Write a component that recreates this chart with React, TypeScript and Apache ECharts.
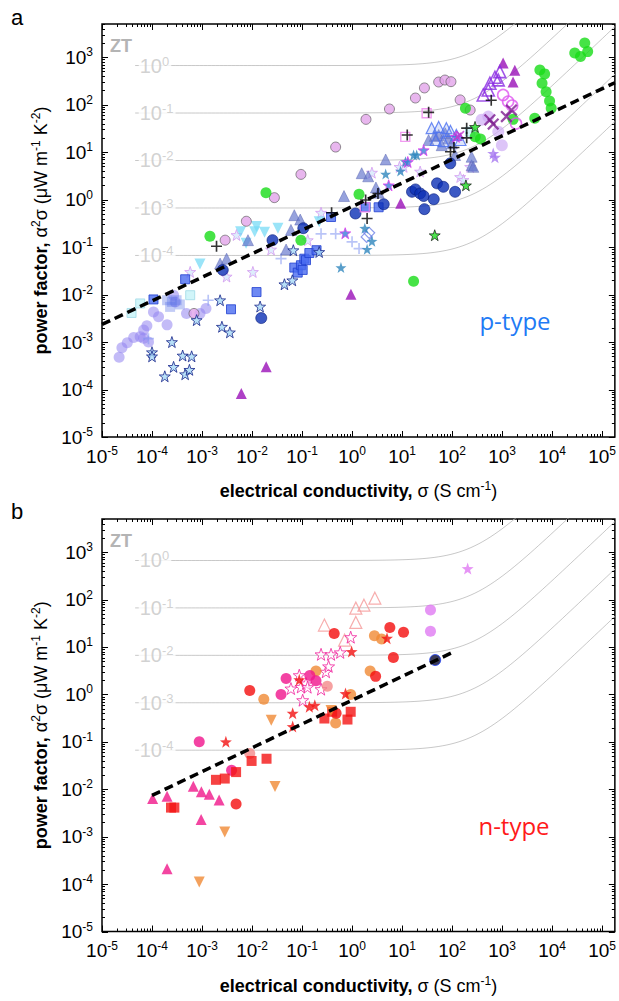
import React, { useEffect, useRef } from "react";
import * as echarts from "echarts";

// ---------- axes ----------
const X_MIN = 1e-5;
const X_MAX = 1.8e5;
const Y_MIN = 1e-5;
const Y_MAX = 5000;
const X_TICK_EXP = [-5, -4, -3, -2, -1, 0, 1, 2, 3, 4, 5];
const Y_TICK_EXP = [-5, -4, -3, -2, -1, 0, 1, 2, 3];

// ---------- ZT model curves ----------
const ZT_LEVELS = [1, 0.1, 0.01, 0.001, 0.0001];
const ZT_LABEL_EXP = ["0", "-1", "-2", "-3", "-4"];
const KAPPA_L = 0.2; // W m-1 K-1
const TEMP = 300; // K
const LORENZ = 2.44e-8; // W Ohm K-2
const CURVE_START = 4.6e-5;
const ZT_LABEL_SIGMA = 5.3e-5;

// ---------- panel a (p-type) ----------
const aLavenderCircles = [[2.2e-5,4.8e-4],[2.5e-5,7.6e-4],[3.2e-5,9.7e-4],[4.3e-5,1.24e-3],[5.8e-5,1.3e-3],[6.8e-5,1.8e-3],[7.9e-5,2.2e-3],[8.5e-5,1.0e-3],[6.8e-5,1.2e-3],[1.07e-4,4.3e-3],[1.35e-4,3.4e-3],[2.0e-4,2.3e-3],[2.7e-4,9.7e-3],[2.9e-4,7.0e-3],[4.9e-4,4.0e-3],[9.1e-4,4.0e-3],[1.2e-3,5.1e-3]];
const aPaleVioletCircles = [[390,48],[530,56],[840,27],[990,14]];
const aPlumCircles = [[6.9e-4,4.0e-3],[2.9e-3,0.14],[7.7e-3,0.35],[0.028,1.1],[0.095,3.4],[0.47,12.8],[1.9,49],[5.6,81],[18.5,138],[28,225],[54,300],[72,330],[95,305],[145,126],[230,77]];
const aGreenCircles = [[1.44e-3,0.17],[0.019,1.4],[0.095,0.14],[1.38,1.3],[17,0.019],[185,84],[290,21],[370,19],[1660,49],[4500,52],[5700,540],[7100,445],[6300,283],[7600,188],[8900,120],[9600,84],[28400,1230],[37000,1030],[45000,2000],[51500,1310]];
const aNavyCircles = [[2.6e-3,0.033],[0.0153,3.2e-3],[0.0257,0.14],[0.106,0.25],[1.17,0.51],[4.3,0.8],[15.8,1.46],[18.5,1.64],[23,1.35],[27,1.19],[28,0.63],[43,1.02],[50,2.2],[67,1.86],[92,5.8],[115,1.46]];
const aBlueSquares = [[1.07e-4,7.9e-3],[4.6e-4,0.021],[3.8e-3,4.9e-3],[0.0123,0.0113],[0.07,0.037],[0.082,0.029],[0.095,0.0415],[0.103,0.033],[0.111,0.057],[0.12,0.053],[0.14,0.075],[0.195,0.086],[0.38,0.43],[1.87,0.7],[3.4,0.69]];
const aFadedBlueSquares = [[2.0e-4,7.6e-3],[2.5e-4,7.0e-3],[3.1e-4,7.6e-3],[3.6e-4,6.2e-3],[2.3e-4,5.5e-3]];
const aCyanSquares = [[3.9e-5,4.1e-3],[5.8e-5,6.5e-3],[5.8e-4,9.7e-3],[230,27]];
const aCyanDownTriangles = [[9.1e-4,0.044],[7.6e-3,0.12],[5.9e-3,0.21],[0.0113,0.21],[0.0123,0.27],[0.0178,0.206],[0.033,0.25],[0.22,0.34]];
const aSlateTriangles = [[0.07,0.47],[0.092,0.38],[8.3e-3,0.14],[0.06,0.23],[0.69,1.19],[3.0,1.8],[1.56,3.6],[4.7,7.0],[2.1,3.1],[3.4,1.4],[45,22],[246,5.3],[246,8.0],[115,8.7],[3.1e-3,0.057],[2.3e-3,0.045],[0.048,0.089],[73,25],[85,19.5],[62,14],[99,15.3],[266,4.9],[54,23],[34,18]];
const aBlueOpenTriangles = [[39,32],[54,34],[77,32],[47,18],[67,17],[93,28],[122,23],[147,18]];
const aPaleStars = [[4.9e-3,0.18],[0.0104,0.03],[3.1e-3,0.024],[5.8e-4,0.03],[0.24,0.53],[0.13,0.14],[0.024,0.089],[10.8,4.9],[23,3.9],[145,3.0],[169,2.6],[230,4.9],[2.5,3.7],[8.9,4.9]];
const aNavyEdgeStars = [[1.0e-4,6.1e-4],[1.0e-4,5.0e-4],[1.8e-4,1.9e-4],[2.5e-4,1.0e-3],[2.7e-4,3.0e-4],[4.1e-4,5.2e-4],[4.6e-4,2.1e-4],[5.6e-4,2.6e-4],[6.2e-4,5.0e-4],[7.8e-4,2.9e-3],[2.3e-3,7.6e-3],[2.5e-3,2.1e-3],[3.6e-3,1.6e-3],[0.0145,5.6e-3],[0.0445,0.0165],[0.064,0.02],[0.067,0.086],[0.22,0.079]];
const aTealStars = [[0.6,0.037],[1.8,0.25],[2.0,0.09],[2.5,0.133],[4.7,3.45],[9.3,4.0],[11.7,6.3],[17,8.7],[19.6,8.7]];
const aPurpleTriangles = [[6.1e-3,8.2e-5],[0.0192,3.0e-4],[0.95,0.0101],[9.4,0.84],[1050,750],[1800,530],[1660,300]];
const aVioletOpenTriangles = [[530,204],[570,283],[720,378],[836,332],[900,497],[420,160]];
const aPlumCrosses = [[570,48],[665,39],[1220,56],[1540,77]];
const aMagentaCrosses = [[145,23],[128,21]];
const aMagentaOpenCircles = [[1050,160],[1320,116],[1590,96],[1900,40]];
const aBlackPluses = [[1.95e-3,0.104],[0.39,0.53],[1.87,0.98],[2.0,0.4],[3.3,1.34],[12.7,23],[34,69],[93,10.2],[109,12.5],[196,32],[196,20],[607,124]];
const aPinkOpenSquares = [[11.6,21],[31,66],[1.8,0.69]];
const aBlueOpenDiamonds = [[1.96,0.164],[2.2,0.2]];
const aLightBluePluses = [[0.24,0.19],[0.47,0.19],[0.038,0.057],[1.0,0.129],[1.38,0.093],[1.33e-3,7.6e-3],[8.5e-5,1.18e-3]];
const aLilacStars = [[665,9.4],[720,7.8]];
const aGreenStars = [[45,0.178],[189,2.0],[288,34]];
const aMagentaEdgeStars = [[0.73,0.196],[5.4,2.0],[13,6.2],[27,11],[120,21]];
const aTrend = [[1e-5,2.35e-3],[1.8e5,290]];

// ---------- panel b (n-type) ----------
const bPinkTriangles = [[1.03e-4,6.4e-3],[2.0e-4,7.1e-3],[6.7e-4,0.0116],[9.7e-4,8.8e-3],[1.4e-3,7.8e-3],[2.2e-3,5.9e-3],[9.6e-4,2.3e-3],[2.0e-4,2.1e-4]];
const bRedSquares = [[2.4e-4,4.1e-3],[2.8e-4,4.1e-3],[1.9e-3,0.0158],[2.85e-3,0.0168],[4.8e-3,0.023],[9.8e-3,0.0395],[0.0195,0.044],[0.28,0.31],[0.4,0.43],[0.81,0.295],[0.94,0.43]];
const bRedCircles = [[4.8e-3,4.9e-3],[9.0e-3,1.21],[0.44,19.3],[0.48,0.4],[2.96,2.4],[5.7,25.8],[6.7,6.0],[10.7,20.5]];
const bRedStars = [[3.0e-3,0.1],[0.065,0.4],[0.065,0.21],[0.088,2.04],[0.14,0.55],[0.18,0.59],[0.74,1.04],[0.98,8.0],[5.0,15.3]];
const bOrangeCircles = [[0.0172,0.79],[0.19,3.1],[0.47,0.25],[0.94,1.0],[2.3,3.1],[2.8,17.3],[3.9,14.8]];
const bSalmonCircles = [[0.32,1.49],[9.0e-3,0.057]];
const bPinkCircles = [[8.8e-4,0.1],[3.9e-3,0.025],[0.038,1.0],[0.048,2.16],[0.143,2.5],[0.19,1.95]];
const bPinkOpenStars = [[0.06,1.33],[0.088,2.54],[0.095,1.44],[0.103,0.755],[0.12,1.7],[0.129,1.42],[0.24,7.0],[0.24,1.29],[0.3,3.0],[0.34,3.9],[0.38,7.0],[0.58,7.7],[0.94,16.1]];
const bSalmonOpenTriangles = [[0.28,29],[0.71,13.9],[1.19,66],[1.19,33],[1.73,76],[2.86,107]];
const bOrangeDownTriangles = [[8.8e-4,1.1e-4],[2.85e-3,1.26e-3],[0.0242,0.286],[0.0288,0.0114],[0.38,0.46]];
const bVioletCircles = [[37,60],[37,21.5]];
const bNavyCircles = [[46,5.3]];
const bVioletStars = [[205,450]];
const bTrend = [[1e-4,7.4e-3],[100,7.6]];

// ---------- helpers ----------
const FONT = "'Liberation Sans', Arial, sans-serif";
const STAR = "path://M0,-10L2.35,-3.24L9.51,-3.09L3.8,1.24L5.88,8.09L0,4L-5.88,8.09L-3.8,1.24L-9.51,-3.09L-2.35,-3.24Z";
const PLUS = "path://M-0.75,-5L0.75,-5L0.75,-0.75L5,-0.75L5,0.75L0.75,0.75L0.75,5L-0.75,5L-0.75,0.75L-5,0.75L-5,-0.75L-0.75,-0.75Z";

function sc(data: number[][], g: number, symbol: string, size: number, itemStyle: any, extra: any = {}) {
  return {
    type: "scatter",
    data,
    xAxisIndex: g,
    yAxisIndex: g,
    symbol,
    symbolSize: size,
    itemStyle,
    silent: true,
    z: 3,
    ...extra,
  };
}

function ztCurves(g: number) {
  const out: any[] = [];
  const steps = 120;
  const l0 = Math.log10(CURVE_START);
  const l1 = Math.log10(X_MAX);
  ZT_LEVELS.forEach((zt) => {
    const pts: number[][] = [];
    for (let i = 0; i <= steps; i++) {
      const s = Math.pow(10, l0 + ((l1 - l0) * i) / steps);
      const pf = (zt * (KAPPA_L + LORENZ * s * 100 * TEMP)) / TEMP * 1e6;
      pts.push([s, pf]);
    }
    out.push({
      type: "line",
      data: pts,
      xAxisIndex: g,
      yAxisIndex: g,
      showSymbol: false,
      symbol: "none",
      silent: true,
      lineStyle: { color: "#c8c8c8", width: 1 },
      z: 1,
    });
  });
  const labelPts = ZT_LEVELS.map((zt, i) => [
    ZT_LABEL_SIGMA,
    (zt * (KAPPA_L + LORENZ * ZT_LABEL_SIGMA * 100 * TEMP)) / TEMP * 1e6,
    ZT_LABEL_EXP[i],
  ]);
  out.push({
    type: "scatter",
    data: labelPts,
    xAxisIndex: g,
    yAxisIndex: g,
    symbolSize: 1,
    itemStyle: { color: "rgba(0,0,0,0)" },
    silent: true,
    z: 2,
    label: {
      show: true,
      position: "right",
      distance: 0,
      formatter: (p: any) => `{b|10}{s|${p.data[2]}}`,
      backgroundColor: "#fff",
      padding: [0, 2, 0, 1],
      rich: {
        b: { fontSize: 20, color: "#c6c6c6", fontFamily: FONT, lineHeight: 22 },
        s: { fontSize: 13, color: "#c6c6c6", fontFamily: FONT, verticalAlign: "top", lineHeight: 17 },
      },
    },
  });
  return out;
}

function tickSeries(g: number) {
  const data: number[][] = [];
  X_TICK_EXP.forEach((e) => {
    const d = Math.pow(10, e);
    data.push([d, 1, 1, 0]);
    for (let k = 2; k <= 9; k++) if (k * d <= X_MAX) data.push([k * d, 1, 0, 0]);
  });
  Y_TICK_EXP.forEach((e) => {
    const d = Math.pow(10, e);
    data.push([1, d, 1, 1]);
    for (let k = 2; k <= 9; k++) if (k * d <= Y_MAX) data.push([1, k * d, 0, 1]);
  });
  return {
    type: "custom",
    xAxisIndex: g,
    yAxisIndex: g,
    data,
    silent: true,
    clip: false,
    z: 10,
    renderItem: (params: any, api: any) => {
      const cs = params.coordSys;
      const major = api.value(2) === 1;
      const len = major ? 6 : 3;
      const style = { stroke: "#000", lineWidth: 1 };
      if (api.value(3) === 0) {
        const px = Math.round(api.coord([api.value(0), 1])[0]) + 0.5;
        const b = cs.y + cs.height;
        return {
          type: "group",
          children: [
            { type: "line", shape: { x1: px, y1: b, x2: px, y2: b - len }, style },
            { type: "line", shape: { x1: px, y1: cs.y, x2: px, y2: cs.y + len }, style },
          ],
        };
      }
      const py = Math.round(api.coord([1, api.value(1)])[1]) + 0.5;
      const r = cs.x + cs.width;
      return {
        type: "group",
        children: [
          { type: "line", shape: { x1: cs.x, y1: py, x2: cs.x + len, y2: py }, style },
          { type: "line", shape: { x1: r, y1: py, x2: r - len, y2: py }, style },
        ],
      };
    },
  };
}

function expLabel(v: number) {
  const l = Math.log10(v);
  const e = Math.round(l);
  if (Math.abs(l - e) > 1e-6) return "";
  return `{b|10}{s|${e}}`;
}

const tickRich = {
  b: { fontSize: 19, color: "#000", fontFamily: FONT, lineHeight: 22 },
  s: { fontSize: 12, color: "#000", fontFamily: FONT, verticalAlign: "top", lineHeight: 17 },
};

const titleRich = {
  b: { fontSize: 18, fontWeight: "bold", color: "#000", fontFamily: FONT, lineHeight: 22 },
  r: { fontSize: 18, color: "#000", fontFamily: FONT, lineHeight: 22 },
  s: { fontSize: 12, color: "#000", fontFamily: FONT, verticalAlign: "top", lineHeight: 16 },
};

function xAxisCfg(g: number) {
  return {
    type: "log",
    logBase: 10,
    gridIndex: g,
    min: X_MIN,
    max: X_MAX,
    splitNumber: 10,
    axisLine: { show: false },
    axisTick: { show: false },
    splitLine: { show: false },
    minorTick: { show: false },
    axisLabel: {
      formatter: expLabel,
      rich: tickRich,
      margin: 8,
      hideOverlap: false,
      customValues: X_TICK_EXP.map((e) => Math.pow(10, e)),
    },
    name: "{b|electrical conductivity, }{r|σ (S cm}{s|-1}{r|)}",
    nameLocation: "middle",
    nameGap: 43,
    nameTextStyle: { rich: titleRich },
  };
}

function yAxisCfg(g: number) {
  return {
    type: "log",
    logBase: 10,
    gridIndex: g,
    min: Y_MIN,
    max: Y_MAX,
    splitNumber: 9,
    axisLine: { show: false },
    axisTick: { show: false },
    splitLine: { show: false },
    minorTick: { show: false },
    axisLabel: {
      formatter: expLabel,
      rich: tickRich,
      margin: 9,
      hideOverlap: false,
      customValues: Y_TICK_EXP.map((e) => Math.pow(10, e)),
    },
    name: "{b|power factor, }{r|α}{s|2}{r|σ (μW m}{s|-1}{r| K}{s|-2}{r|)}",
    nameLocation: "middle",
    nameRotate: 90,
    nameGap: 50,
    nameTextStyle: { rich: titleRich },
  };
}

function trend(data: number[][], g: number) {
  return {
    type: "line",
    data,
    xAxisIndex: g,
    yAxisIndex: g,
    symbol: "none",
    silent: true,
    z: 4,
    lineStyle: { color: "#000", width: 3.5, type: [9, 5] },
  };
}

export default function App() {
  const ref = useRef<HTMLDivElement>(null);
  useEffect(() => {
    if (!ref.current) return;
    const chart = echarts.init(ref.current, null, { renderer: "svg" });
    const series: any[] = [
      ...ztCurves(0),
      ...ztCurves(1),
      // panel a
      sc(aLavenderCircles, 0, "circle", 11, { color: "rgba(145,130,240,0.68)" }),
      sc(aPaleVioletCircles, 0, "circle", 12, { color: "rgba(205,170,245,0.85)" }),
      sc(aLightBluePluses, 0, PLUS, 11, { color: "rgba(130,150,240,0.7)" }),
      sc(aFadedBlueSquares, 0, "rect", 10, { color: "rgba(90,115,230,0.45)" }),
      sc(aCyanSquares, 0, "rect", 9, { color: "#c6f2f8", borderColor: "#9fd9e6", borderWidth: 1 }),
      sc(aPaleStars, 0, STAR, 11, { color: "#d6e8fb", borderColor: "#d59af0", borderWidth: 1 }),
      sc(aCyanDownTriangles, 0, "triangle", 11, { color: "rgba(115,218,245,0.9)" }, { symbolRotate: 180 }),
      sc(aSlateTriangles, 0, "triangle", 11, { color: "rgba(100,118,205,0.85)", borderColor: "rgba(80,92,170,0.9)", borderWidth: 0.6 }),
      sc(aBlueOpenTriangles, 0, "triangle", 11, { color: "rgba(120,150,240,0.3)", borderColor: "#4a6ff0", borderWidth: 1.2 }),
      sc(aBlueOpenDiamonds, 0, "diamond", 11, { color: "rgba(255,255,255,0)", borderColor: "#6d7fe6", borderWidth: 1.2 }),
      sc(aPlumCircles, 0, "circle", 10, { color: "#e2a4ea", borderColor: "#555", borderWidth: 0.8 }),
      sc(aBlueSquares, 0, "rect", 9, { color: "#4a6cf0", borderColor: "#1f3fcf", borderWidth: 1 }),
      sc(aNavyEdgeStars, 0, STAR, 11, { color: "#a6d8f6", borderColor: "#17248a", borderWidth: 1 }),
      sc(aTealStars, 0, STAR, 11, { color: "#2e86bd" }),
      sc(aMagentaEdgeStars, 0, STAR, 11, { color: "#3a7ed8", borderColor: "#e23bf0", borderWidth: 1 }),
      sc(aNavyCircles, 0, "circle", 11, { color: "#0b2fb5", borderColor: "#0a1f80", borderWidth: 0.8 }),
      sc(aGreenCircles, 0, "circle", 11, { color: "#18dc18" }),
      sc(aPurpleTriangles, 0, "triangle", 11, { color: "#9a10b8" }),
      sc(aVioletOpenTriangles, 0, "triangle", 12, { color: "rgba(255,255,255,0)", borderColor: "#8a2be2", borderWidth: 1.6 }),
      sc(aMagentaOpenCircles, 0, "circle", 11, { color: "rgba(255,255,255,0)", borderColor: "#df55f0", borderWidth: 1.6 }),
      sc(aPinkOpenSquares, 0, "rect", 9, { color: "rgba(255,255,255,0)", borderColor: "#ee82ee", borderWidth: 1.4 }),
      sc(aPlumCrosses, 0, PLUS, 15, { color: "#7d1d8e" }, { symbolRotate: 45 }),
      sc(aMagentaCrosses, 0, PLUS, 11, { color: "#c23ad0" }, { symbolRotate: 45 }),
      sc(aLilacStars, 0, STAR, 12, { color: "#a678f0" }),
      sc(aGreenStars, 0, STAR, 11, { color: "#22dd22", borderColor: "#000", borderWidth: 0.8 }),
      sc(aBlackPluses, 0, PLUS, 11, { color: "#000" }),
      trend(aTrend, 0),
      // panel b
      sc(bSalmonOpenTriangles, 1, "triangle", 12, { color: "rgba(255,255,255,0)", borderColor: "#f59a9a", borderWidth: 1.2 }),
      sc(bPinkOpenStars, 1, STAR, 12, { color: "rgba(255,255,255,0.7)", borderColor: "#f0209c", borderWidth: 1 }),
      sc(bSalmonCircles, 1, "circle", 11, { color: "#f48a8a" }),
      sc(bOrangeCircles, 1, "circle", 11, { color: "#f08a34" }),
      sc(bRedCircles, 1, "circle", 11, { color: "#f40d0d" }),
      sc(bPinkCircles, 1, "circle", 11, { color: "#f0148c" }),
      sc(bRedSquares, 1, "rect", 10, { color: "#f41414" }),
      sc(bPinkTriangles, 1, "triangle", 11, { color: "#f0168a" }),
      sc(bOrangeDownTriangles, 1, "triangle", 11, { color: "#f08a34" }, { symbolRotate: 180 }),
      sc(bRedStars, 1, STAR, 12, { color: "#f21010" }),
      sc(bVioletCircles, 1, "circle", 11, { color: "#e07af2" }),
      sc(bNavyCircles, 1, "circle", 11, { color: "#0a0a30", borderColor: "#2244ff", borderWidth: 1 }),
      sc(bVioletStars, 1, STAR, 12, { color: "#e07af2" }),
      trend(bTrend, 1),
      tickSeries(0),
      tickSeries(1),
    ];

    chart.setOption({
      animation: false,
      backgroundColor: "#fff",
      grid: [
        { left: 102, top: 24, width: 515, height: 413, show: true, borderColor: "#000", borderWidth: 1.5, backgroundColor: "transparent" },
        { left: 102, top: 519, width: 515, height: 412.5, show: true, borderColor: "#000", borderWidth: 1.5, backgroundColor: "transparent" },
      ],
      xAxis: [xAxisCfg(0), xAxisCfg(1)],
      yAxis: [yAxisCfg(0), yAxisCfg(1)],
      series,
      graphic: [
        { type: "text", left: 11, top: 6, style: { text: "a", font: `22px ${FONT}`, fill: "#000" } },
        { type: "text", left: 11, top: 500, style: { text: "b", font: `22px ${FONT}`, fill: "#000" } },
        { type: "text", left: 110, top: 37, style: { text: "ZT", font: `bold 18px ${FONT}`, fill: "#b4b4b4" } },
        { type: "text", left: 110, top: 532, style: { text: "ZT", font: `bold 18px ${FONT}`, fill: "#b4b4b4" } },
        { type: "text", x: 515, y: 320, style: { text: "p-type", font: `24px 'Open Sans', 'Noto Sans', sans-serif`, fill: "#1f7bf5", textAlign: "center", textVerticalAlign: "middle" } },
        { type: "text", x: 514, y: 825, style: { text: "n-type", font: `24px 'Open Sans', 'Noto Sans', sans-serif`, fill: "#ff1a1a", textAlign: "center", textVerticalAlign: "middle" } },
      ],
    });
    return () => chart.dispose();
  }, []);
  return (
    <div
      ref={ref}
      style={{ position: "fixed", left: 0, top: 0, width: 619, height: 1001, background: "#fff" }}
    />
  );
}
